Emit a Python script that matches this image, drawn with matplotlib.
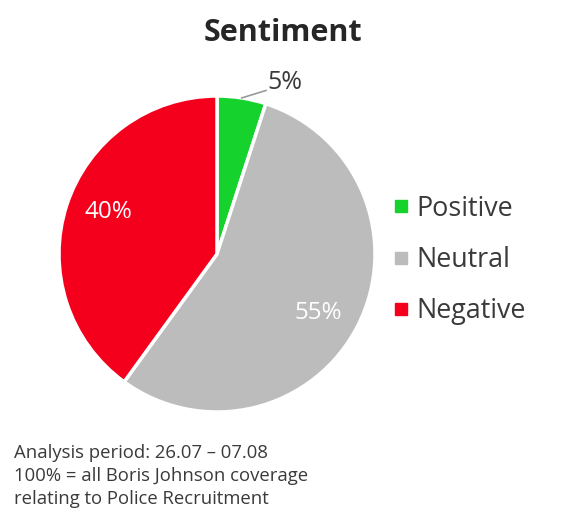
import matplotlib
matplotlib.use("Agg")
import matplotlib.pyplot as plt
from matplotlib.lines import Line2D
import numpy as np

categories = ["Positive", "Neutral", "Negative"]
values = [5, 55, 40]
colors = ["#16d22c", "#bcbcbc", "#f5001c"]
title = "Sentiment"
footnote = ["Analysis period: 26.07 \u2013 07.08",
            "100% = all Boris Johnson coverage",
            "relating to Police Recruitment"]

plt.rcParams['font.family'] = ['Open Sans', 'DejaVu Sans']
text_color = "#3a3a3a"

fig = plt.figure(figsize=(5.63, 5.18), dpi=100)
fig.patch.set_facecolor("white")

W, H = 563, 518
cx, cy, r = 217, 254, 158
ax = fig.add_axes([(cx - r) / W, (H - cy - r) / H, 2 * r / W, 2 * r / H])
wedges, _ = ax.pie(values, colors=colors, startangle=90, counterclock=False,
                   wedgeprops=dict(edgecolor="white", linewidth=2.5), radius=1)
ax.set_xlim(-1, 1)
ax.set_ylim(-1, 1)
ax.set_aspect("equal")
ax.axis("off")

total = sum(values)
angles = []
start = 90
for v in values:
    span = 360 * v / total
    angles.append(start - span / 2)
    start -= span

# Positive label outside with leader
a = np.deg2rad(angles[0])
ax.plot([np.cos(a) * 1.0, 0.31], [np.sin(a) * 1.0, 1.035], color="#999999",
        lw=1.2, clip_on=False)
ax.text(0.32, 1.085, f"{values[0]}%", ha="left", va="center", fontsize=18,
        color=text_color)
# Neutral inside
ax.text(0.64, -0.375, f"{values[1]}%", ha="center", va="center", fontsize=17.5,
        color="white")
# Negative inside
ax.text(-0.686, 0.265, f"{values[2]}%", ha="center", va="center", fontsize=17.5,
        color="white")

fig.text(283 / W, 1 - 33 / H, title, ha="center", va="center", fontsize=22,
         fontweight="bold", color="#262626")

handles = [Line2D([], [], marker="s", linestyle="none", markersize=9,
                  markerfacecolor=c, markeredgecolor=c) for c in colors]
leg = fig.legend(handles, categories, loc="center left",
                 bbox_to_anchor=(375 / W, 1 - 260 / H), frameon=False,
                 fontsize=19.4, labelspacing=0.87, handletextpad=0.15,
                 handlelength=0.9, borderpad=0)
for t in leg.get_texts():
    t.set_color(text_color)

for i, line in enumerate(footnote):
    fig.text(14 / W, 1 - (453 + 23 * i) / H, line, ha="left", va="center",
             fontsize=13.3, color=text_color)

fig.savefig("out.png", dpi=100, facecolor="white")
